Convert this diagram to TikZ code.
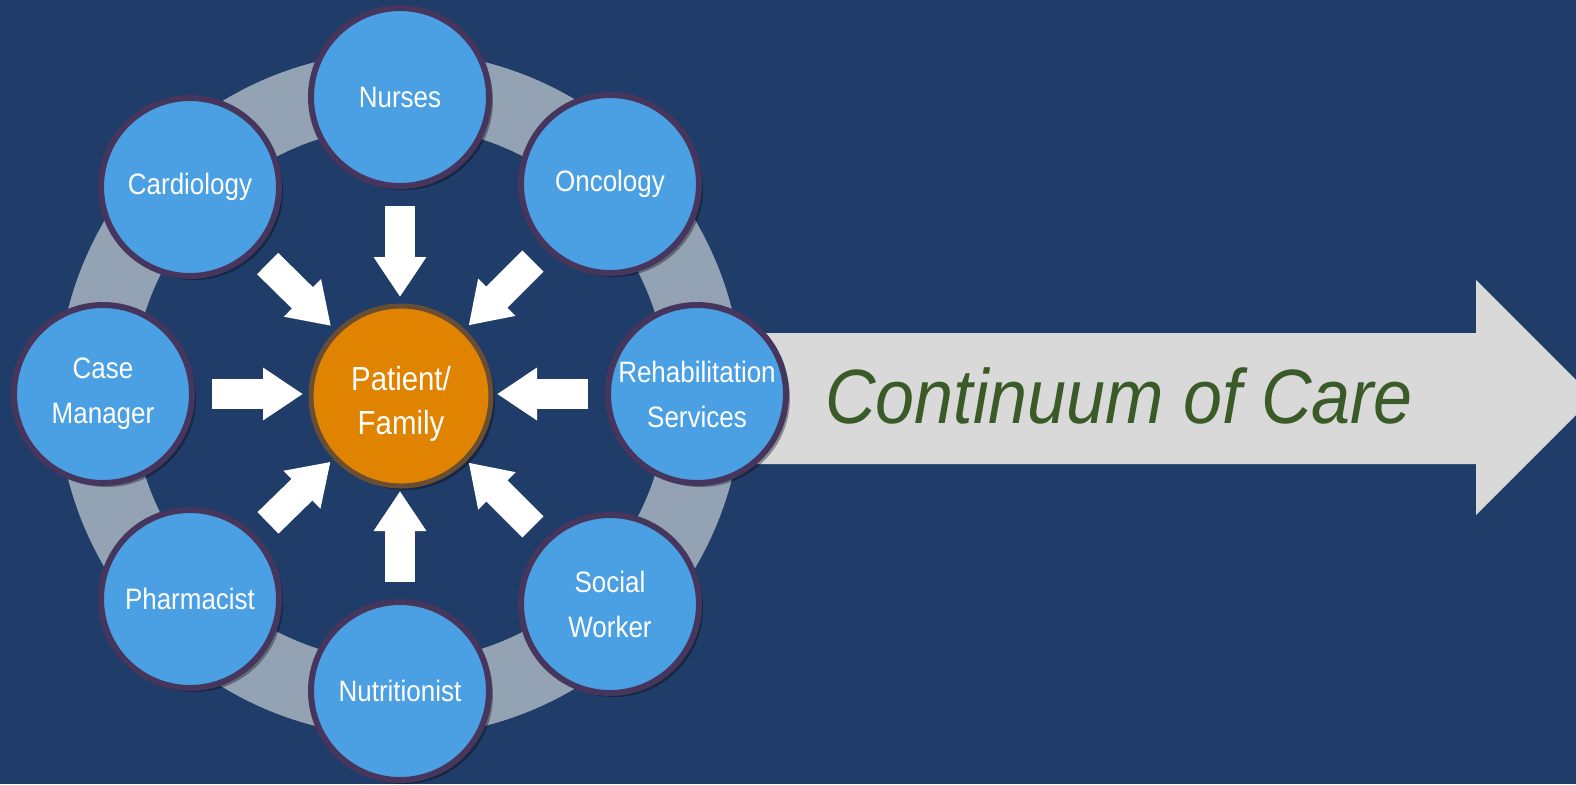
\documentclass[tikz,border=0pt]{standalone}
\usepackage{fontspec}
\setmainfont{Liberation Sans}[FakeStretch=0.88]
\newfontfamily\contfont{Liberation Sans}[FakeStretch=0.91]
\usetikzlibrary{arrows.meta,shadows}
\definecolor{bgc}{HTML}{1F3D68}
\definecolor{ringc}{HTML}{94A3B4}
\definecolor{memberfill}{HTML}{4BA0E3}
\definecolor{memberedge}{HTML}{46365E}
\definecolor{patfill}{HTML}{E08300}
\definecolor{patedge}{HTML}{6A4E33}
\definecolor{bigarrowc}{HTML}{D9D9D9}
\definecolor{contgreen}{HTML}{3A5A27}
\tikzset{
  member/.style={circle, draw=memberedge, line width=0.06cm, fill=memberfill,
    minimum size=1.78cm, inner sep=0pt, text=white, align=center,
    font=\fontsize{8.4}{12.8}\selectfont,
    drop shadow={shadow xshift=0.04cm, shadow yshift=-0.04cm, fill=black, opacity=0.35}},
  patient/.style={circle, draw=patedge, line width=0.05cm, fill=patfill,
    minimum size=1.80cm, inner sep=0pt, text=white, align=center,
    font=\fontsize{9.5}{12.4}\selectfont,
    drop shadow={shadow xshift=0.04cm, shadow yshift=-0.04cm, fill=black, opacity=0.35}},
  blockarrow/.style={draw=white, line width=0.30cm,
    -{Triangle[width=0.50cm, length=0.40cm, fill=white]},
    shorten <=1.09cm, shorten >=0.97cm}
}
\begin{document}
\begin{tikzpicture}
\useasboundingbox (0,0) rectangle (15.76,-7.84);
\clip (0,0) rectangle (15.76,-7.84);
\fill[bgc] (0,0) rectangle (15.76,-7.84);
\coordinate (C) at (4.00,-3.94);
% grey ring
\draw[ringc, line width=0.75cm] (C) circle (3.05);
% big arrow
\fill[bigarrowc] (7.3,-3.33) -- (14.76,-3.33) -- (14.76,-2.80) -- (15.935,-3.975)
  -- (14.76,-5.15) -- (14.76,-4.64) -- (7.3,-4.64) -- cycle;
\node[text=contgreen, anchor=base, font=\contfont\itshape\fontsize{21.9}{26}\selectfont]
  (cont) at (11.19,-4.23) {Continuum of Care};
% members
\node[member] (nurses) at ([shift={(90:2.97)}]C) {Nurses};
\node[member] (onc) at ([shift={(45:2.97)}]C) {Oncology};
\node[member] (rehab) at ([shift={(0:2.97)}]C) {Rehabilitation\\Services};
\node[member] (social) at ([shift={(-45:2.97)}]C) {Social\\Worker};
\node[member] (nutri) at ([shift={(-90:2.97)}]C) {Nutritionist};
\node[member] (pharm) at (1.90,-5.99) {Pharmacist};
\node[member] (case) at ([shift={(180:2.97)}]C) {Case\\Manager};
\node[member] (cardio) at (1.90,-1.87) {Cardiology};
% patient
\node[patient] (pat) at ([shift={(0.01,-0.02)}]C) {\rule{0pt}{11.5pt}Patient/\\Family};
% arrows
\foreach \m in {nurses,onc,rehab,social,nutri,pharm,case,cardio}
  \draw[blockarrow] (\m.center) -- (C);
\end{tikzpicture}
\end{document}
